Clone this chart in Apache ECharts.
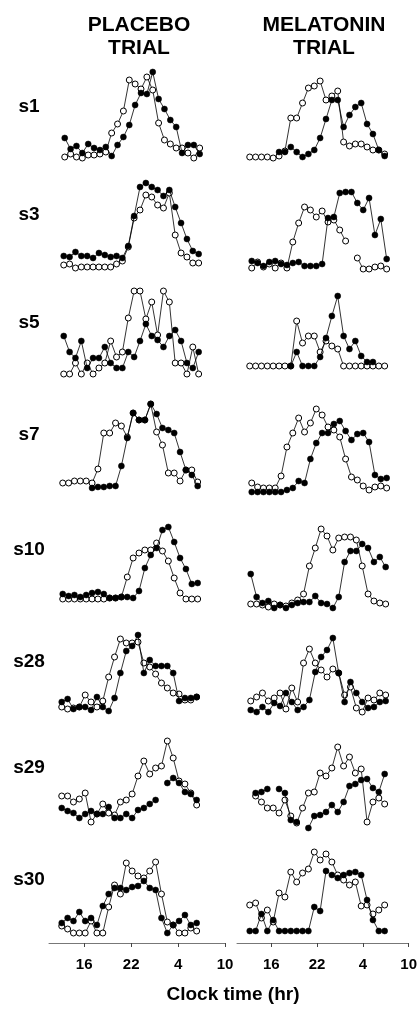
<!DOCTYPE html>
<html>
<head>
<meta charset="utf-8">
<script src="https://cdn.jsdelivr.net/npm/echarts@6/dist/echarts.min.js"></script>
<style>
  html, body { margin: 0; padding: 0; background: #fff; }
  #chart { width: 420px; height: 1010px; }
</style>
</head>
<body>
<div id="chart"></div>
<script>
// sampling times (hours, 24+ = next day), one sample every 45 min
const hours = [13, 13.75, 14.5, 15.25, 16, 16.75, 17.5, 18.25, 19, 19.75, 20.5, 21.25,
               22, 22.75, 23.5, 24.25, 25, 25.75, 26.5, 27.25, 28, 28.75, 29.5, 30.25];
const tickHours = [16, 22, 28, 34];
const tickLabels = ['16', '22', '4', '10'];
const subjects = ['s1', 's3', 's5', 's7', 's10', 's28', 's29', 's30'];

// relative melatonin level, filled = ● series, open = ○ series
const s1PlaceboFilled   = [22,11,14,7,16,12,10,13,4,15,23,35,55,67,66,88,61,51,40,33,7,15,15,6];
const s1PlaceboOpen     = [3,6,3,2,5,5,6,8,27,36,49,80,76,71,83,70,37,20,16,12,12,7,2,12];
const s1MelatoninFilled = [null,null,null,null,null,8,8,13,8,3,6,10,22,41,60,60,33,45,53,57,36,26,10,4];
const s1MelatoninOpen   = [3,3,3,3,2,4,9,42,42,57,72,74,79,60,64,69,18,14,16,16,13,10,10,6];

const s3PlaceboFilled   = [14,13,18,14,14,12,17,15,13,14,12,24,54,83,87,83,80,74,80,63,47,31,19,16];
const s3PlaceboOpen     = [5,6,2,3,3,3,3,3,3,6,9,23,52,60,75,73,65,62,77,35,17,13,7,7];
const s3MelatoninFilled = [9,7,4,8,9,6,5,7,8,4,4,4,6,52,53,77,78,78,67,60,72,35,51,11];
const s3MelatoninOpen   = [2,8,3,6,2,7,2,28,47,63,60,53,59,48,50,40,29,null,12,1,1,3,4,1];

const s5PlaceboFilled   = [42,26,20,37,10,20,20,31,15,10,10,26,21,37,54,42,38,31,42,48,37,15,10,26];
const s5PlaceboOpen     = [4,4,15,4,15,4,10,15,37,21,26,60,87,87,59,76,43,87,76,15,15,4,31,4];
const s5MelatoninFilled = [null,null,null,null,null,null,null,12,26,12,12,12,21,40,62,82,42,29,37,22,16,16,null,null];
const s5MelatoninOpen   = [12,12,12,12,12,12,12,12,57,35,42,42,26,37,32,29,12,12,12,12,12,12,12,12];

const s7PlaceboFilled   = [null,null,null,null,null,7,8,8,9,9,29,57,82,75,75,91,81,67,65,62,43,25,20,9];
const s7PlaceboOpen     = [12,12,14,14,14,12,26,62,62,72,69,58,82,75,75,91,63,50,22,22,14,25,25,13];
const s7MelatoninFilled = [3,3,3,3,3,3,5,7,14,12,36,52,62,62,71,74,64,55,61,62,53,20,16,17];
const s7MelatoninOpen   = [12,8,7,7,7,19,48,62,77,63,72,86,80,68,65,58,36,18,15,9,5,8,9,7];

const s10PlaceboFilled   = [16,14,15,13,15,17,18,16,12,12,13,13,12,19,42,55,62,80,83,68,52,41,26,27];
const s10PlaceboOpen     = [11,11,11,11,11,11,11,11,12,12,13,33,52,57,60,60,67,59,49,32,17,11,11,11];
const s10MelatoninFilled = [36,13,7,9,2,5,2,5,7,8,8,14,7,6,2,13,48,59,59,66,62,48,53,43];
const s10MelatoninOpen   = [6,6,5,3,6,5,4,7,10,16,44,62,81,74,60,72,73,73,70,44,16,9,7,6];

const s28PlaceboFilled   = [12,15,5,7,7,4,17,7,3,16,41,63,68,79,41,54,48,48,48,41,13,16,16,17];
const s28PlaceboOpen     = [7,5,6,7,19,12,7,13,37,57,75,71,71,72,51,47,40,31,26,21,20,14,14,17];
const s28MelatoninFilled = [4,2,7,2,11,8,21,12,4,7,14,42,57,64,76,41,12,32,21,12,6,7,12,13];
const s28MelatoninOpen   = [13,17,21,13,16,21,5,26,12,51,65,51,44,37,45,41,19,27,6,2,16,14,21,19];

const s29PlaceboFilled   = [22,19,17,12,16,19,16,16,23,12,12,16,12,20,22,26,30,null,47,52,47,38,36,30];
const s29PlaceboOpen     = [34,34,28,31,37,8,16,26,17,15,28,30,36,54,69,56,62,64,89,72,49,46,37,25];
const s29MelatoninFilled = [null,37,38,41,null,41,37,10,8,null,2,14,15,18,25,18,28,44,46,50,51,42,38,56];
const s29MelatoninOpen   = [null,34,28,22,22,17,30,14,7,22,37,38,57,54,62,83,64,73,57,61,8,28,32,26];

const s30PlaceboFilled   = [14,19,16,25,16,19,12,31,43,49,49,47,50,51,56,49,47,19,4,12,16,22,12,14];
const s30PlaceboOpen     = [11,8,4,4,4,16,4,4,30,52,43,74,66,61,59,66,75,43,15,12,4,4,9,6];
const s30MelatoninFilled = [6,6,23,6,17,6,6,6,6,6,6,30,26,66,62,59,62,64,65,62,37,17,6,6];
const s30MelatoninOpen   = [32,34,19,27,15,44,40,65,55,64,68,85,77,83,75,62,57,52,55,31,32,23,27,32];

// [placebo filled, placebo open, melatonin filled, melatonin open] per row
const rows = [
  [s1PlaceboFilled, s1PlaceboOpen, s1MelatoninFilled, s1MelatoninOpen],
  [s3PlaceboFilled, s3PlaceboOpen, s3MelatoninFilled, s3MelatoninOpen],
  [s5PlaceboFilled, s5PlaceboOpen, s5MelatoninFilled, s5MelatoninOpen],
  [s7PlaceboFilled, s7PlaceboOpen, s7MelatoninFilled, s7MelatoninOpen],
  [s10PlaceboFilled, s10PlaceboOpen, s10MelatoninFilled, s10MelatoninOpen],
  [s28PlaceboFilled, s28PlaceboOpen, s28MelatoninFilled, s28MelatoninOpen],
  [s29PlaceboFilled, s29PlaceboOpen, s29MelatoninFilled, s29MelatoninOpen],
  [s30PlaceboFilled, s30PlaceboOpen, s30MelatoninFilled, s30MelatoninOpen]
];

// layout
const rowBottom = [160, 270, 378, 495, 610, 714, 830, 937];
const rowLabelY = [107, 215, 323, 435, 550, 662, 768, 880];
const leftShift = [3, 2, 2, 1, 1, 0, 0, 0];
const rightShift = [0, 2, 0, 2, 1, 1, 0, 0];
const colLeft = [50, 238];
const panelW = 176;
const xMin = 11.5, xMax = 34;
const FONT = '"Liberation Sans", Arial, sans-serif';

const toPoints = vals => hours.map((h, i) => [h, vals[i] == null ? '-' : vals[i]]);

const grids = [], xAxes = [], yAxes = [], series = [];

rows.forEach((row, r) => {
  [0, 1].forEach(c => {
    const k = grids.length;
    const shift = c === 0 ? leftShift[r] : rightShift[r];
    grids.push({ left: colLeft[c] + shift, width: panelW, top: rowBottom[r] - 100, height: 100 });
    xAxes.push({ type: 'value', gridIndex: k, min: xMin, max: xMax, show: false });
    yAxes.push({ type: 'value', gridIndex: k, min: 0, max: 100, show: false });
    const filled = row[c * 2], open = row[c * 2 + 1];
    series.push({
      type: 'line', xAxisIndex: k, yAxisIndex: k, z: 2,
      data: toPoints(open),
      symbol: 'circle', symbolSize: 6, showAllSymbol: true,
      lineStyle: { color: '#000', width: 0.8 },
      itemStyle: { color: '#fff', borderColor: '#000', borderWidth: 1 }
    });
    series.push({
      type: 'line', xAxisIndex: k, yAxisIndex: k, z: 3,
      data: toPoints(filled),
      symbol: 'circle', symbolSize: 6, showAllSymbol: true,
      lineStyle: { color: '#000', width: 0.8 },
      itemStyle: { color: '#000', borderColor: '#000', borderWidth: 0.5 }
    });
  });
});

// shared clock-time axes at the bottom
[0, 1].forEach(c => {
  const k = grids.length;
  grids.push({ left: colLeft[c] - 1, width: panelW, top: 843, height: 100 });
  xAxes.push({
    type: 'value', gridIndex: k, min: xMin, max: xMax,
    axisLine: { show: true, lineStyle: { color: '#777', width: 1 } },
    axisTick: { show: true, customValues: tickHours, length: 4, lineStyle: { color: '#444' } },
    axisLabel: {
      customValues: tickHours,
      formatter: v => tickLabels[tickHours.indexOf(v)],
      color: '#000', fontWeight: 'bold', fontSize: 15, fontFamily: FONT, margin: 14
    },
    splitLine: { show: false }
  });
  yAxes.push({ type: 'value', gridIndex: k, min: 0, max: 100, show: false });
});

const txt = (text, x, y, size) => ({
  type: 'text', x: x, y: y,
  style: { text: text, font: 'bold ' + size + 'px ' + FONT, fill: '#000', align: 'center', verticalAlign: 'middle' }
});

const graphics = [
  txt('PLACEBO', 139, 25, 21), txt('TRIAL', 139, 48, 21),
  txt('MELATONIN', 324, 25, 21), txt('TRIAL', 324, 48, 21),
  txt('Clock time (hr)', 233, 995, 19)
];
subjects.forEach((s, r) => graphics.push(txt(s, 29, rowLabelY[r], 19)));

const chart = echarts.init(document.getElementById('chart'));
chart.setOption({
  animation: false,
  backgroundColor: '#fff',
  grid: grids,
  xAxis: xAxes,
  yAxis: yAxes,
  series: series,
  graphic: graphics
});
</script>
</body>
</html>
